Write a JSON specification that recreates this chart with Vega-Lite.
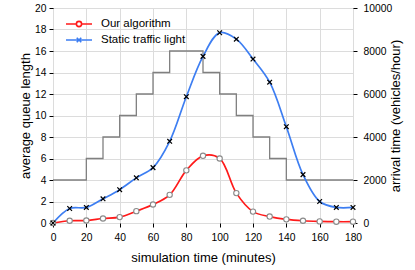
{
  "$schema": "https://vega.github.io/schema/vega-lite/v6.json",
  "width": 300,
  "height": 215,
  "autosize": {"type": "none"},
  "padding": {"left": 53, "top": 8, "right": 62, "bottom": 47},
  "background": "white",
  "config": {
    "font": "Liberation Sans",
    "view": {"stroke": "black", "strokeWidth": 1},
    "axis": {
      "labelFont": "Liberation Sans",
      "titleFont": "Liberation Sans",
      "labelFontSize": 10.3,
      "titleFontSize": 13,
      "titleFontWeight": "normal",
      "labelColor": "black",
      "titleColor": "black",
      "domainColor": "black",
      "tickColor": "black",
      "gridColor": "#dcdcdc",
      "gridWidth": 1,
      "labelOverlap": false,
      "labelFlush": false
    }
  },
  "datasets": {
    "series": [
      {"t": 0, "series": "Our algorithm", "q": 0},
      {"t": 10, "series": "Our algorithm", "q": 0.21},
      {"t": 20, "series": "Our algorithm", "q": 0.23},
      {"t": 30, "series": "Our algorithm", "q": 0.42},
      {"t": 40, "series": "Our algorithm", "q": 0.55},
      {"t": 50, "series": "Our algorithm", "q": 1.1},
      {"t": 60, "series": "Our algorithm", "q": 1.72},
      {"t": 70, "series": "Our algorithm", "q": 2.62},
      {"t": 80, "series": "Our algorithm", "q": 4.9},
      {"t": 90, "series": "Our algorithm", "q": 6.25},
      {"t": 100, "series": "Our algorithm", "q": 6.0},
      {"t": 110, "series": "Our algorithm", "q": 2.78},
      {"t": 120, "series": "Our algorithm", "q": 1.06},
      {"t": 130, "series": "Our algorithm", "q": 0.6},
      {"t": 140, "series": "Our algorithm", "q": 0.34},
      {"t": 150, "series": "Our algorithm", "q": 0.21},
      {"t": 160, "series": "Our algorithm", "q": 0.15},
      {"t": 170, "series": "Our algorithm", "q": 0.12},
      {"t": 180, "series": "Our algorithm", "q": 0.12},
      {"t": 0, "series": "Static traffic light", "q": 0},
      {"t": 10, "series": "Static traffic light", "q": 1.35},
      {"t": 20, "series": "Static traffic light", "q": 1.45},
      {"t": 30, "series": "Static traffic light", "q": 2.25},
      {"t": 40, "series": "Static traffic light", "q": 3.1},
      {"t": 50, "series": "Static traffic light", "q": 4.2},
      {"t": 60, "series": "Static traffic light", "q": 5.15},
      {"t": 70, "series": "Static traffic light", "q": 7.6},
      {"t": 80, "series": "Static traffic light", "q": 11.75},
      {"t": 90, "series": "Static traffic light", "q": 15.5},
      {"t": 100, "series": "Static traffic light", "q": 17.7},
      {"t": 110, "series": "Static traffic light", "q": 17.1},
      {"t": 120, "series": "Static traffic light", "q": 15.25},
      {"t": 130, "series": "Static traffic light", "q": 13.1},
      {"t": 140, "series": "Static traffic light", "q": 8.96},
      {"t": 150, "series": "Static traffic light", "q": 4.5},
      {"t": 160, "series": "Static traffic light", "q": 2.0},
      {"t": 170, "series": "Static traffic light", "q": 1.45},
      {"t": 180, "series": "Static traffic light", "q": 1.45}
    ],
    "arrival": [
      {"t": 0, "rate": 2000},
      {"t": 20, "rate": 3000},
      {"t": 30, "rate": 4000},
      {"t": 40, "rate": 5000},
      {"t": 50, "rate": 6000},
      {"t": 60, "rate": 7000},
      {"t": 70, "rate": 8000},
      {"t": 90, "rate": 7000},
      {"t": 100, "rate": 6000},
      {"t": 110, "rate": 5000},
      {"t": 120, "rate": 4000},
      {"t": 130, "rate": 3000},
      {"t": 140, "rate": 2000},
      {"t": 180, "rate": 2000}
    ]
  },
  "encoding": {
    "x": {
      "field": "t", "type": "quantitative",
      "scale": {"domain": [0, 180], "nice": false},
      "axis": {"title": "simulation time (minutes)", "values": [0,20,40,60,80,100,120,140,160,180], "labelOverlap": false, "labelFlush": false, "tickSize": 4, "labelPadding": 5, "titlePadding": 9, "grid": true, "domain": false}
    }
  },
  "layer": [
    {
      "data": {"name": "arrival"},
      "mark": {"type": "line", "interpolate": "step-after", "color": "#808080", "strokeWidth": 1.3},
      "encoding": {
        "y": {
          "field": "rate", "type": "quantitative",
          "scale": {"domain": [0, 10000], "nice": false},
          "axis": {"orient": "right", "title": "arrival time (vehicles/hour)", "format": "d", "titleAngle": 270, "titleBaseline": "bottom", "values": [0,2000,4000,6000,8000,10000], "grid": false, "tickSize": 4, "labelPadding": 6, "titlePadding": 11, "domain": false}
        }
      }
    },
    {
      "data": {"name": "series"},
      "encoding": {
        "y": {
          "field": "q", "type": "quantitative",
          "scale": {"domain": [0, 20], "nice": false},
          "axis": {"orient": "left", "title": "average queue length", "values": [0,2,4,6,8,10,12,14,16,18,20], "grid": true, "tickSize": 4, "labelPadding": 3, "titlePadding": 2, "domain": false}
        }
      },
      "layer": [
        {
          "mark": {"type": "line", "interpolate": "catmull-rom", "strokeWidth": 1.7},
          "encoding": {
            "color": {
              "field": "series", "type": "nominal",
              "scale": {"domain": ["Our algorithm", "Static traffic light"], "range": ["#ff1a1a", "#3d7ef2"]},
              "legend": {
                "title": null,
                "orient": "none",
                "legendX": 18.5,
                "legendY": 8.5,
                "padding": 0,
                "symbolSize": 169,
                "symbolStrokeWidth": 1.6,
                "labelOffset": 14.5,
                "labelFontSize": 11.5,
                "labelFont": "Liberation Sans",
                "labelColor": "black",
                "rowPadding": 2,
                "encode": {
                  "symbols": {
                    "update": {
                      "shape": {"signal": "datum.value === 'Our algorithm' ? 'M-2,0H-0.4M0.4,0H2M-0.4,0A0.4,0.4 0 1,1 0.4,0A0.4,0.4 0 1,1 -0.4,0' : 'M-2,0H2M-0.35,-0.35L0.35,0.35M-0.35,0.35L0.35,-0.35'"},
                      "fill": {"value": "white"},
                      "opacity": {"value": 1}
                    }
                  }
                }
              }
            },
            "order": {"field": "t"}
          }
        },
        {
          "transform": [{"filter": "datum.series === 'Our algorithm'"}],
          "mark": {"type": "point", "shape": "circle", "filled": true, "fill": "white", "stroke": "#8a8a8a", "strokeWidth": 1.1, "size": 28, "opacity": 1}
        },
        {
          "transform": [{"filter": "datum.series === 'Static traffic light'"}],
          "mark": {"type": "point", "shape": "M-1,-1L1,1M-1,1L1,-1", "filled": false, "stroke": "black", "strokeWidth": 1.2, "size": 22, "opacity": 1}
        }
      ]
    }
  ],
  "resolve": {"scale": {"y": "independent"}}
}
